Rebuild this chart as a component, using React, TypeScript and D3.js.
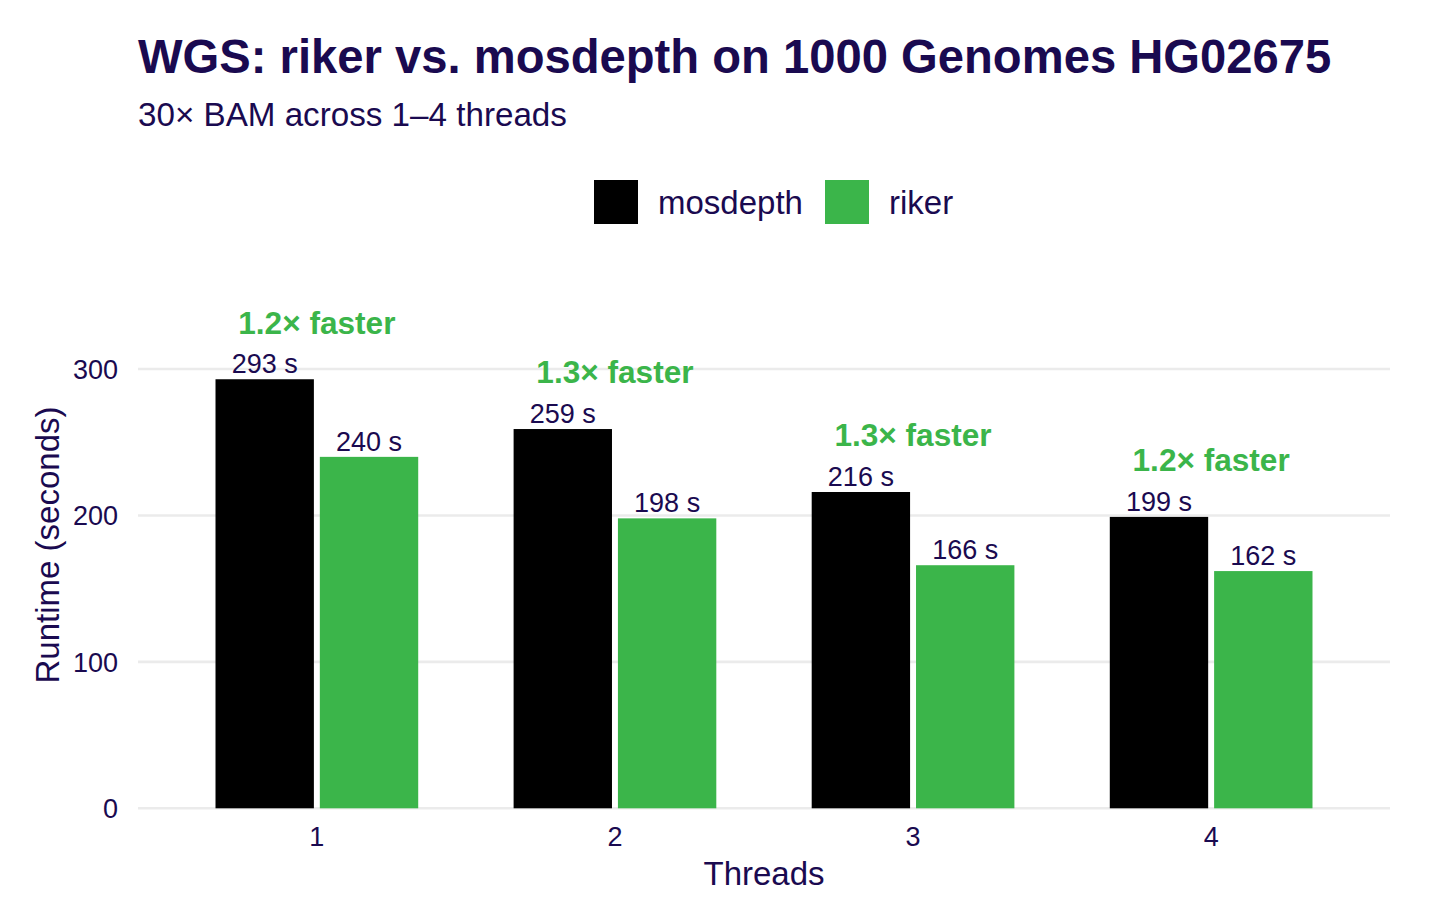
import React from "react";
import * as d3 from "d3";

const threads = ["1", "2", "3", "4"];
const series = ["mosdepth", "riker"];
const mosdepth = [293, 259, 216, 199];
const riker = [240, 198, 166, 162];
const speedupLabels = ["1.2× faster", "1.3× faster", "1.3× faster", "1.2× faster"];
const yTicks = [0, 100, 200, 300];

const colors: Record<string, string> = { mosdepth: "#000000", riker: "#3bb54a" };
const TEXT = "#1a0a50";
const FONT = "'Liberation Sans', Arial, Helvetica, sans-serif";

export default function App() {
  const W = 1440;
  const H = 919;
  const left = 138;
  const right = 1390;
  const y = d3.scaleLinear().domain([0, 300]).range([808.3, 369]);
  const x = d3.scaleLinear().domain([0.4, 4.6]).range([left, right]);
  const unit = x(2) - x(1);
  const sub = d3.scaleBand<string>().domain(series).range([-0.34 * unit, 0.34 * unit]).paddingInner(0.057);
  const valuesBy: Record<string, number[]> = { mosdepth, riker };

  return (
    <svg width={W} height={H} style={{ display: "block", position: "absolute", left: 0, top: 0 }} fontFamily={FONT}>
      <rect width={W} height={H} fill="#ffffff" />
      <text x={138} y={73} fontSize={47.2} fontWeight="bold" fill={TEXT}>
        WGS: riker vs. mosdepth on 1000 Genomes HG02675
      </text>
      <text x={138} y={126} fontSize={33.2} fill={TEXT}>
        30× BAM across 1–4 threads
      </text>

      {/* legend */}
      <rect x={594} y={180} width={44} height={44} fill={colors.mosdepth} />
      <text x={658} y={214} fontSize={33} fill={TEXT}>mosdepth</text>
      <rect x={825} y={180} width={44} height={44} fill={colors.riker} />
      <text x={889} y={214} fontSize={33} fill={TEXT}>riker</text>

      {/* grid */}
      {yTicks.map((t) => (
        <g key={t}>
          <line x1={left} x2={right} y1={y(t)} y2={y(t)} stroke="#ebebeb" strokeWidth={2.6} />
          <text x={118} y={y(t)} dy="0.36em" textAnchor="end" fontSize={27} fill={TEXT}>
            {t}
          </text>
        </g>
      ))}

      {/* bars */}
      {threads.map((t, i) => {
        const cx = x(i + 1);
        const maxV = Math.max(mosdepth[i], riker[i]);
        return (
          <g key={t}>
            {series.map((s) => {
              const v = valuesBy[s][i];
              const bx = cx + (sub(s) as number);
              const bw = sub.bandwidth();
              return (
                <g key={s}>
                  <rect x={bx} y={y(v)} width={bw} height={y(0) - y(v)} fill={colors[s]} />
                  <text x={bx + bw / 2} y={y(v) - 6} textAnchor="middle" fontSize={27} fill={TEXT}>
                    {v} s
                  </text>
                </g>
              );
            })}
            <text x={cx} y={y(maxV + 39)} dy="0.36em" textAnchor="middle" fontSize={31.6} fontWeight="bold" fill={colors.riker}>
              {speedupLabels[i]}
            </text>
            <text x={cx} y={846} textAnchor="middle" fontSize={27} fill={TEXT}>
              {t}
            </text>
          </g>
        );
      })}

      <text x={(left + right) / 2} y={885} textAnchor="middle" fontSize={33} fill={TEXT}>
        Threads
      </text>
      <text transform="translate(59,545) rotate(-90)" textAnchor="middle" fontSize={33} fill={TEXT}>
        Runtime (seconds)
      </text>
    </svg>
  );
}
